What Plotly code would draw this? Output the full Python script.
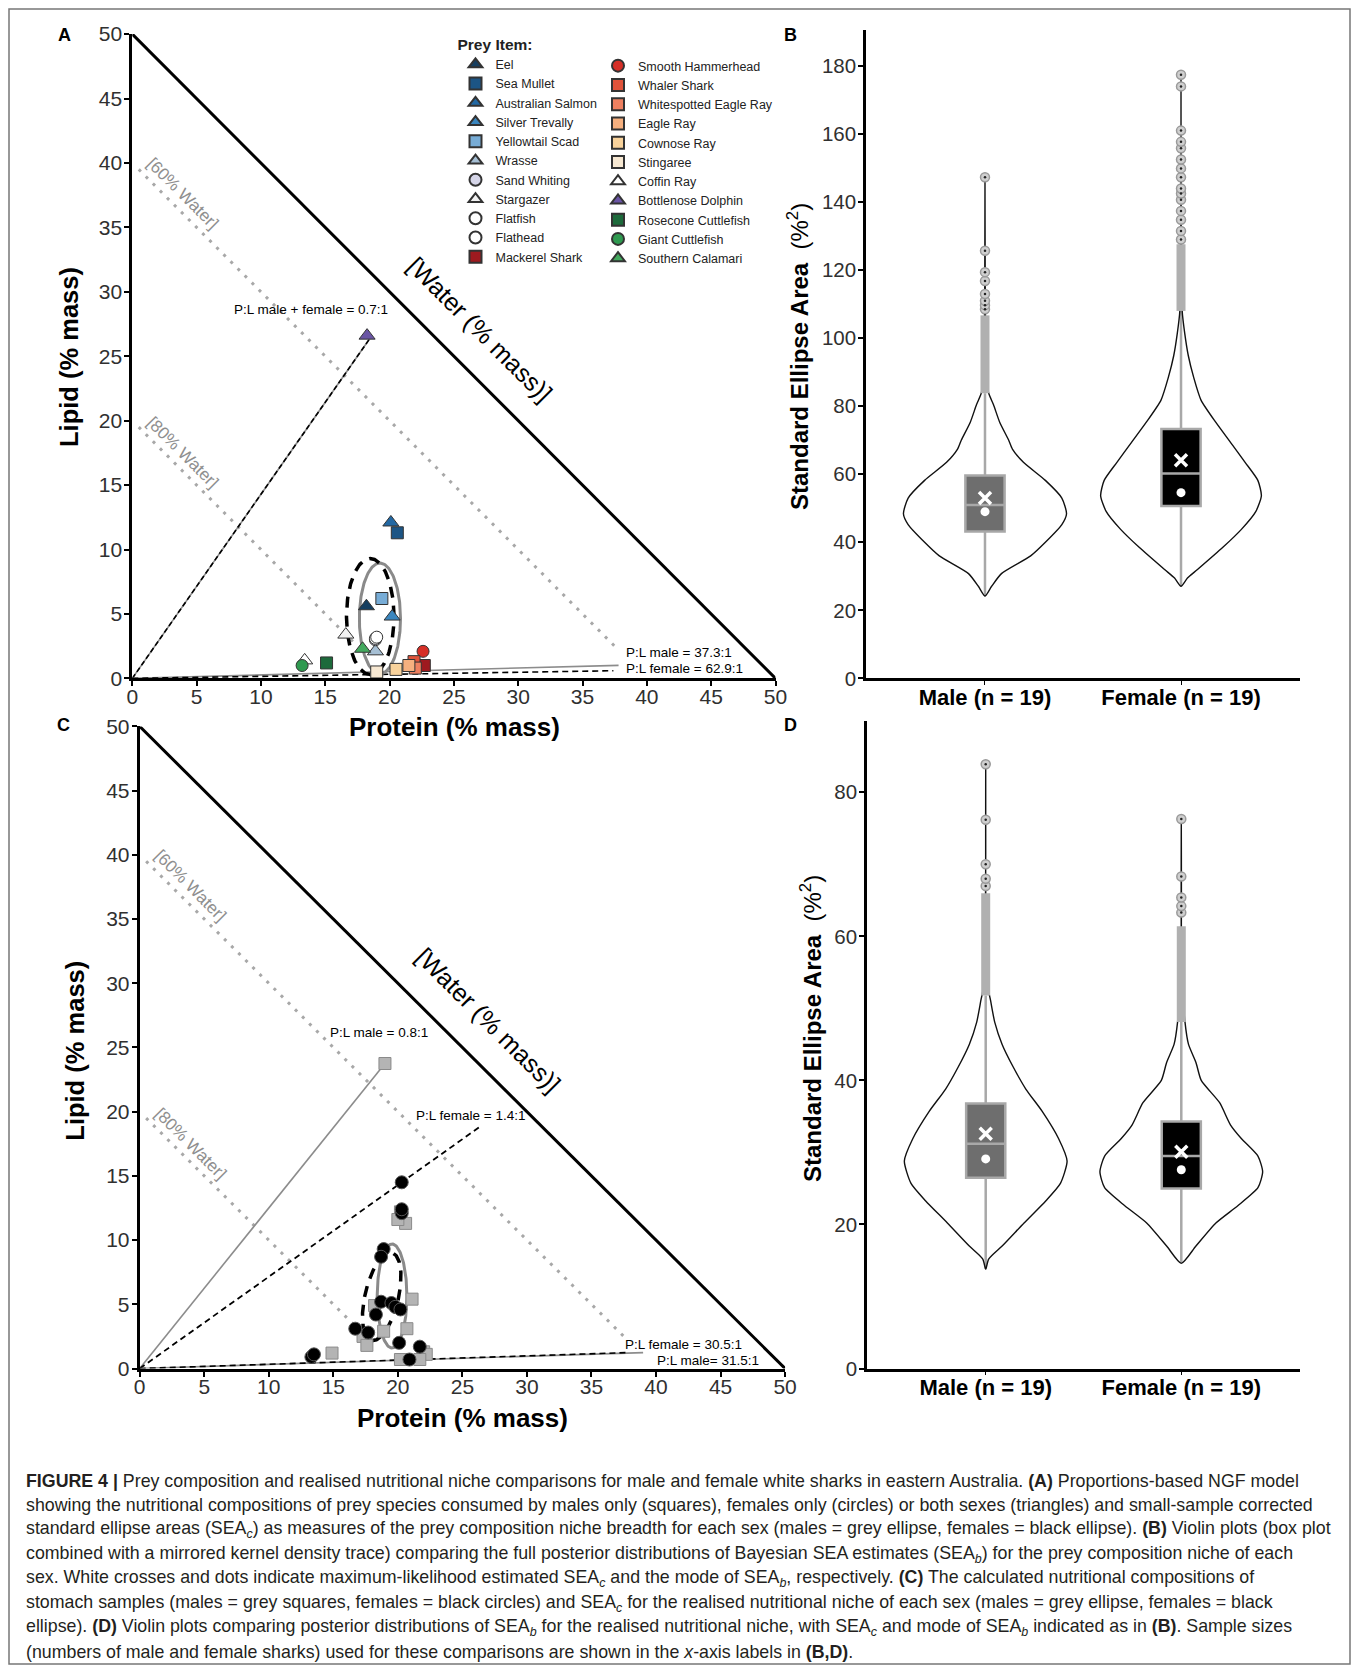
import numpy as np
import plotly.graph_objects as go

W, H = 1359, 1673          # page (screenshot) size
OFF = 8                    # default body margin of the html page
FW, FH = W - 2 * OFF, H - 2 * OFF
FONT = "Liberation Sans, Arial, Helvetica, sans-serif"

# ---------------- Panel A : prey items ----------------
prey_names_col1 = ["Eel", "Sea Mullet", "Australian Salmon", "Silver Trevally", "Yellowtail Scad",
                   "Wrasse", "Sand Whiting", "Stargazer", "Flatfish", "Flathead", "Mackerel Shark"]
prey_names_col2 = ["Smooth Hammerhead", "Whaler Shark", "Whitespotted Eagle Ray", "Eagle Ray",
                   "Cownose Ray", "Stingaree", "Coffin Ray", "Bottlenose Dolphin",
                   "Rosecone Cuttlefish", "Giant Cuttlefish", "Southern Calamari"]
prey_symbols_col1 = ["triangle-up", "square", "triangle-up", "triangle-up", "square", "triangle-up",
                     "circle", "triangle-up", "circle", "circle", "square"]
prey_symbols_col2 = ["circle", "square", "square", "square", "square", "square", "triangle-up",
                     "triangle-up", "square", "circle", "triangle-up"]
prey_colors_col1 = ["#163e5f", "#1c5585", "#2268a3", "#3a86bf", "#77acd6", "#a6bfd4",
                    "#d5d5e8", "#f2f2f2", "#ffffff", "#ffffff", "#9e1a1f"]
prey_colors_col2 = ["#d62f27", "#e0533a", "#ee8060", "#f6b07f", "#f9d39c", "#f7e8d2",
                    "#ffffff", "#6a55a5", "#1d6a3b", "#2f9a50", "#43a95e"]
prey_protein_col1 = [18.2, 20.6, 20.1, 20.2, 19.4, 18.9, 18.9, 16.6, 18.9, 19.0, 22.7]
prey_lipid_col1 = [5.6, 11.3, 12.1, 4.8, 6.2, 2.1, 3.0, 3.4, 3.1, 3.2, 1.0]
prey_protein_col2 = [22.6, 21.9, 22.0, 21.5, 20.5, 19.0, 13.4, 18.25, 15.1, 13.2, 17.9]
prey_lipid_col2 = [2.1, 1.3, 0.8, 1.0, 0.7, 0.5, 1.4, 26.6, 1.2, 1.0, 2.3]

# ellipses (centre protein, centre lipid, semi-axis x, semi-axis y, tilt deg)
sea_A_male = [19.25, 4.65, 1.6, 4.3, 0]
sea_A_female = [18.5, 4.8, 1.85, 4.5, 0]
sea_C_male = [19.55, 5.65, 1.15, 4.05, 0]
sea_C_female = [18.75, 5.6, 1.3, 3.5, -13]

# protein:lipid lines (ratio, end protein)
pl_A_both = [0.7, 18.6]
pl_A_male = [37.3, 37.8]
pl_A_female = [62.9, 37.4]
pl_C_male_hi = [0.8, 19.0]
pl_C_female_hi = [1.4, 26.5]
pl_C_female_lo = [30.5, 37.7]
pl_C_male_lo = [31.5, 39.0]

# ---------------- Panel C : stomach samples ----------------
male_protein = [19.0, 20.2, 20.6, 20.0, 21.1, 18.2, 18.9, 20.7, 17.3, 17.6, 14.9, 22.0, 22.2, 20.2, 21.7]
male_lipid = [23.75, 12.2, 11.3, 11.6, 5.4, 4.9, 2.9, 3.1, 2.5, 1.8, 1.2, 1.3, 1.1, 0.7, 0.7]
female_protein = [20.3, 20.3, 20.3, 18.9, 18.7, 18.7, 19.5, 19.8, 20.2, 18.3, 16.7, 17.7, 20.1, 21.7, 13.3, 13.5, 20.9]
female_lipid = [14.5, 12.1, 12.4, 9.3, 8.7, 5.2, 5.1, 4.8, 4.6, 4.2, 3.1, 2.8, 2.0, 1.7, 0.9, 1.1, 0.7]

# ---------------- Panels B / D : violins ----------------
sex_labels = ["Male (n = 19)", "Female (n = 19)"]
sex_pos = [1, 2]

B_male_levels = [24.2, 27, 30.8, 36, 40, 45.2, 48.4, 53, 58.2, 63.5, 67.4, 70, 75.3, 80.5, 83.8, 88, 101, 120, 147.3]
B_male_hw = [0, 0.033, 0.084, 0.233, 0.308, 0.392, 0.416, 0.392, 0.308, 0.196, 0.14, 0.121, 0.075, 0.043, 0.019, 0.009, 0.003, 0.001, 0]
B_female_levels = [27.1, 29.5, 32, 38.6, 43.8, 49.1, 53.7, 58.2, 63.5, 68.7, 75.3, 81.8, 88.4, 94.9, 101.4, 108, 130, 177.4]
B_female_hw = [0, 0.033, 0.084, 0.215, 0.308, 0.382, 0.41, 0.392, 0.327, 0.261, 0.177, 0.102, 0.065, 0.037, 0.019, 0.006, 0.001, 0]
D_male_levels = [13.8, 15.2, 17, 20.2, 23.3, 25.7, 28.8, 31.9, 35.7, 38.8, 41.9, 45, 48.1, 51.2, 52.4, 60, 83.9]
D_male_hw = [0, 0.015, 0.084, 0.196, 0.308, 0.382, 0.416, 0.373, 0.289, 0.205, 0.14, 0.084, 0.046, 0.024, 0.015, 0.002, 0]
D_female_levels = [14.6, 17, 20.2, 22.6, 25.1, 27.3, 29.5, 31.9, 33.8, 36.9, 40, 42.5, 45, 48.1, 55, 76.3]
D_female_hw = [0, 0.075, 0.177, 0.289, 0.392, 0.416, 0.392, 0.308, 0.252, 0.196, 0.102, 0.075, 0.037, 0.019, 0.002, 0]

# box stats: lowerfence, q1, median, q3, upperfence
B_box = [[24.2, 43.2, 51.0, 59.6, 83.8], [27.1, 50.7, 60.2, 73.3, 108.0]]
D_box = [[13.8, 26.5, 31.2, 36.8, 51.8], [14.6, 25.0, 29.5, 34.3, 48.1]]
B_sea_c = [53.0, 64.1]
B_mode = [49.0, 54.6]
D_sea_c = [32.6, 30.1]
D_mode = [29.1, 27.6]
B_dense_top = [106.7, 127.6]
D_dense_top = [66.0, 61.4]
B_outliers = [[108.5, 109.7, 111, 113, 116.8, 119.4, 125.7, 147.3],
              [129, 131.5, 134.8, 137.4, 140.7, 142.5, 144, 147.3, 149.9, 152.5, 155.8, 157.7, 161, 174, 177.4]]
D_outliers = [[67, 68, 70, 76.2, 83.9], [63.3, 64.2, 65.4, 68.3, 76.3]]
box_fill = ["#6e6e6e", "#000000"]

water_line = [[0, 50], [50, 0]]
water60 = [[0.5, 37.5], [39.5, 2.5]]
water80 = [[0.5, 17.5], [19.5, 2.5]]


def px(p):
    return (p - OFF) / FW


def py(p):
    return 1 - (p - OFF) / FH


fig = go.Figure()


def add_line(xs, ys, ax, color, width, dash="solid"):
    fig.add_trace(go.Scatter(x=xs, y=ys, mode="lines", line=dict(color=color, width=width, dash=dash),
                             xaxis=ax[0], yaxis=ax[1], showlegend=False, hoverinfo="skip"))


def ellipse(par, ax, color, width, dash):
    cx, cy, rx, ry, ang = par
    t = np.linspace(0, 2 * np.pi, 200)
    a = np.deg2rad(ang)
    ex = rx * np.cos(t)
    ey = ry * np.sin(t)
    xs = cx + ex * np.cos(a) - ey * np.sin(a)
    ys = cy + ex * np.sin(a) + ey * np.cos(a)
    add_line(xs, ys, ax, color, width, dash)


def pl_line(par, ax, color, width, dash):
    ratio, xend = par
    add_line([0, xend], [0, xend / ratio], ax, color, width, dash)


for ax in [("x", "y"), ("x3", "y3")]:
    add_line(water60[0], water60[1], ax, "#a8a8a8", 3, "3px,7px")
    add_line(water80[0], water80[1], ax, "#a8a8a8", 3, "3px,7px")
    add_line(water_line[0], water_line[1], ax, "black", 3)

# Panel A lines
pl_line(pl_A_both, ("x", "y"), "#8c8c8c", 1.6, "solid")
pl_line(pl_A_both, ("x", "y"), "black", 1.6, "5px,3px")
pl_line(pl_A_male, ("x", "y"), "#8c8c8c", 1.6, "solid")
pl_line(pl_A_female, ("x", "y"), "black", 1.6, "6px,4px")
ellipse(sea_A_male, ("x", "y"), "#8a8a8a", 3, "solid")
ellipse(sea_A_female, ("x", "y"), "black", 3.5, "11px,8px")

# Panel A prey points
for names, syms, cols, xs, ys, leg in [
        (prey_names_col1, prey_symbols_col1, prey_colors_col1, prey_protein_col1, prey_lipid_col1, "legend"),
        (prey_names_col2, prey_symbols_col2, prey_colors_col2, prey_protein_col2, prey_lipid_col2, "legend2")]:
    for n, s, c, xv, yv in zip(names, syms, cols, xs, ys):
        fig.add_trace(go.Scatter(
            x=[xv], y=[yv], mode="markers", name=n, legend=leg, cliponaxis=False,
            marker=dict(symbol=s, color=c, size=14 if "triangle" in s else 12,
                        line=dict(color="#333333", width=1)),
            xaxis="x", yaxis="y"))

# Panel C lines
pl_line(pl_C_male_hi, ("x3", "y3"), "#8c8c8c", 1.6, "solid")
pl_line(pl_C_female_hi, ("x3", "y3"), "black", 1.8, "6px,4px")
pl_line(pl_C_male_lo, ("x3", "y3"), "#8c8c8c", 1.6, "solid")
pl_line(pl_C_female_lo, ("x3", "y3"), "black", 1.6, "6px,4px")
ellipse(sea_C_male, ("x3", "y3"), "#8a8a8a", 3, "solid")
ellipse(sea_C_female, ("x3", "y3"), "black", 3.5, "11px,8px")

fig.add_trace(go.Scatter(x=male_protein, y=male_lipid, mode="markers", cliponaxis=False,
                         marker=dict(symbol="square", size=12, color="#b4b4b4", line=dict(color="#8a8a8a", width=1)),
                         xaxis="x3", yaxis="y3", showlegend=False, name="Male"))
fig.add_trace(go.Scatter(x=female_protein, y=female_lipid, mode="markers", cliponaxis=False,
                         marker=dict(symbol="circle", size=13, color="#000000", line=dict(color="#555555", width=1)),
                         xaxis="x3", yaxis="y3", showlegend=False, name="Female"))


# Violins
def add_violin(ax, pos, levels, hw, box, sea_c, mode, dense_top, outl, fill):
    xs = [pos + w for w in hw] + [pos - w for w in hw[::-1]]
    ys = list(levels) + list(levels[::-1])
    fig.add_trace(go.Scatter(x=xs, y=ys, mode="lines", line=dict(color="#111111", width=1.4, shape="spline", smoothing=0.6),
                             xaxis=ax[0], yaxis=ax[1], showlegend=False, hoverinfo="skip"))
    fig.add_trace(go.Scatter(x=[pos, pos], y=[box[4], dense_top], mode="lines",
                             line=dict(color="#b0b0b0", width=9), xaxis=ax[0], yaxis=ax[1],
                             showlegend=False, hoverinfo="skip"))
    fig.add_trace(go.Box(x=[pos], lowerfence=[box[0]], q1=[box[1]], median=[box[2]], q3=[box[3]],
                         upperfence=[box[4]], width=0.2, whiskerwidth=0, fillcolor=fill,
                         line=dict(color="#a8a8a8", width=2.5), boxpoints=False,
                         xaxis=ax[0], yaxis=ax[1], showlegend=False, hoverinfo="skip"))
    fig.add_trace(go.Scatter(x=[pos] * len(outl), y=outl, mode="markers",
                             marker=dict(symbol="circle", size=9, color="#cfcfcf", line=dict(color="#9a9a9a", width=1.5)),
                             xaxis=ax[0], yaxis=ax[1], showlegend=False, hoverinfo="skip"))
    fig.add_trace(go.Scatter(x=[pos] * len(outl), y=outl, mode="markers",
                             marker=dict(symbol="circle", size=2.5, color="#222222"),
                             xaxis=ax[0], yaxis=ax[1], showlegend=False, hoverinfo="skip"))
    fig.add_trace(go.Scatter(x=[pos], y=[sea_c], mode="markers",
                             marker=dict(symbol="x-thin", size=12, color="white", line=dict(color="white", width=3.5)),
                             xaxis=ax[0], yaxis=ax[1], showlegend=False, hoverinfo="skip"))
    fig.add_trace(go.Scatter(x=[pos], y=[mode], mode="markers",
                             marker=dict(symbol="circle", size=9, color="white", line=dict(width=0)),
                             xaxis=ax[0], yaxis=ax[1], showlegend=False, hoverinfo="skip"))


add_violin(("x2", "y2"), sex_pos[0], B_male_levels, B_male_hw, B_box[0], B_sea_c[0], B_mode[0], B_dense_top[0], B_outliers[0], box_fill[0])
add_violin(("x2", "y2"), sex_pos[1], B_female_levels, B_female_hw, B_box[1], B_sea_c[1], B_mode[1], B_dense_top[1], B_outliers[1], box_fill[1])
add_violin(("x4", "y4"), sex_pos[0], D_male_levels, D_male_hw, D_box[0], D_sea_c[0], D_mode[0], D_dense_top[0], D_outliers[0], box_fill[0])
add_violin(("x4", "y4"), sex_pos[1], D_female_levels, D_female_hw, D_box[1], D_sea_c[1], D_mode[1], D_dense_top[1], D_outliers[1], box_fill[1])

# ---------------- Axes ----------------
tern_x = dict(range=[0, 50], tickvals=list(range(0, 51, 5)), showline=True, linecolor="black", linewidth=3,
              ticks="outside", ticklen=5, tickwidth=1.5, tickcolor="black", showgrid=False, zeroline=False,
              tickfont=dict(family=FONT, size=21, color="#303030"), fixedrange=True, automargin=False,
              ticklabelstandoff=-8)
tern_y = dict(tern_x, ticklabelstandoff=-2)
vio_y = dict(showline=True, linecolor="black", linewidth=2.5, ticks="outside", ticklen=5, tickwidth=1.5,
             tickcolor="black", showgrid=False, zeroline=False, tickfont=dict(family=FONT, size=20.5, color="#303030"),
             automargin=False, ticklabelstandoff=-2)
vio_x = dict(range=[0.393, 2.607], tickvals=sex_pos, ticktext=["<b>" + s + "</b>" for s in sex_labels],
             showline=True, linecolor="black", linewidth=2.5, ticks="outside", ticklen=4, tickwidth=1.2,
             tickcolor="black", showgrid=False, zeroline=False, tickfont=dict(family=FONT, size=22, color="black"),
             automargin=False, ticklabelstandoff=-7)

fig.update_layout(
    width=FW, height=FH, margin=dict(l=0, r=0, t=0, b=0, pad=0, autoexpand=False),
    paper_bgcolor="white", plot_bgcolor="white",
    font=dict(family=FONT, color="black"),
    xaxis=dict(domain=[px(132.3), px(775.5)], anchor="y", **tern_x),
    yaxis=dict(domain=[py(678.4), py(34.1)], anchor="x", **tern_y),
    xaxis3=dict(domain=[px(139.7), px(785.1)], anchor="y3", **tern_x),
    yaxis3=dict(domain=[py(1368.5), py(726.4)], anchor="x3", **tern_y),
    xaxis2=dict(domain=[px(866), px(1300)], anchor="y2", **vio_x),
    yaxis2=dict(domain=[py(678.4), py(29.9)], anchor="x2", range=[0, 190.6], tickvals=list(range(0, 181, 20)), **vio_y),
    xaxis4=dict(domain=[px(867), px(1300)], anchor="y4", **vio_x),
    yaxis4=dict(domain=[py(1368.5), py(721)], anchor="x4", range=[0, 89.9], tickvals=list(range(0, 81, 20)), **vio_y),
    legend=dict(x=px(455.5), y=py(29.5), xanchor="left", yanchor="top", bgcolor="rgba(0,0,0,0)",
                font=dict(family=FONT, size=12.5, color="#222222"), itemsizing="constant", tracegroupgap=0,
                title=dict(text="<b>Prey Item:</b>", font=dict(family=FONT, size=15.5, color="#222222"), side="top")),
    legend2=dict(x=px(598), y=py(51), xanchor="left", yanchor="top", bgcolor="rgba(0,0,0,0)",
                 font=dict(family=FONT, size=12.5, color="#222222"), itemsizing="constant", tracegroupgap=0),
)

ann = []


def pa(text, x, y, size, angle=0, bold=False, color="black", xanchor="center"):
    ann.append(dict(text=("<b>%s</b>" % text) if bold else text, x=px(x), y=py(y), xref="paper", yref="paper",
                    showarrow=False, textangle=angle, xanchor=xanchor, yanchor="middle",
                    font=dict(family=FONT, size=size, color=color)))


def da(text, x, y, ax, size, angle=0, color="black", xanchor="center"):
    ann.append(dict(text=text, x=x, y=y, xref=ax[0], yref=ax[1], showarrow=False, textangle=angle,
                    xanchor=xanchor, yanchor="middle", font=dict(family=FONT, size=size, color=color)))


# panel letters
pa("A", 64, 35, 18, bold=True)
pa("B", 790, 35, 18, bold=True)
pa("C", 63, 725, 18, bold=True)
pa("D", 790, 725, 18, bold=True)
# axis titles
pa("Lipid (% mass)", 69, 357, 25.5, angle=-90, bold=True)
pa("Protein (% mass)", 454, 727.5, 26, bold=True)
pa("Lipid (% mass)", 75, 1050.7, 25.5, angle=-90, bold=True)
pa("Protein (% mass)", 462, 1417.6, 26, bold=True)
pa("<b>Standard Ellipse Area</b>  (%<sup>2</sup>)", 798, 357, 24, angle=-90)
pa("<b>Standard Ellipse Area</b>  (%<sup>2</sup>)", 811, 1029, 24, angle=-90)

for ax in [("x", "y"), ("x3", "y3")]:
    da("[Water (% mass)]", 27.0, 27.1, ax, 25, angle=45)
    da("[60% Water]", 3.9, 37.6, ax, 17, angle=45, color="#8f8f8f")
    da("[80% Water]", 3.9, 17.5, ax, 17, angle=45, color="#8f8f8f")

da("P:L male + female = 0.7:1", 13.9, 28.6, ("x", "y"), 13.5)
da("P:L male = 37.3:1", 38.2, 2.0, ("x", "y"), 13.5, xanchor="left")
da("P:L female = 62.9:1", 38.2, 0.75, ("x", "y"), 13.5, xanchor="left")
da("P:L male = 0.8:1", 18.5, 26.2, ("x3", "y3"), 13.5)
da("P:L female = 1.4:1", 25.6, 19.7, ("x3", "y3"), 13.5)
da("P:L female = 30.5:1", 42.1, 1.9, ("x3", "y3"), 13.5)
da("P:L male= 31.5:1", 44.0, 0.66, ("x3", "y3"), 13.5)

caption = [
    "<b>FIGURE 4 |</b> Prey composition and realised nutritional niche comparisons for male and female white sharks in eastern Australia. <b>(A)</b> Proportions-based NGF model",
    "showing the nutritional compositions of prey species consumed by males only (squares), females only (circles) or both sexes (triangles) and small-sample corrected",
    "standard ellipse areas (SEA<sub><i>c</i></sub>) as measures of the prey composition niche breadth for each sex (males = grey ellipse, females = black ellipse). <b>(B)</b> Violin plots (box plot",
    "combined with a mirrored kernel density trace) comparing the full posterior distributions of Bayesian SEA estimates (SEA<sub><i>b</i></sub>) for the prey composition niche of each",
    "sex. White crosses and dots indicate maximum-likelihood estimated SEA<sub><i>c</i></sub> and the mode of SEA<sub><i>b</i></sub>, respectively. <b>(C)</b> The calculated nutritional compositions of",
    "stomach samples (males = grey squares, females = black circles) and SEA<sub><i>c</i></sub> for the realised nutritional niche of each sex (males = grey ellipse, females = black",
    "ellipse). <b>(D)</b> Violin plots comparing posterior distributions of SEA<sub><i>b</i></sub> for the realised nutritional niche, with SEA<sub><i>c</i></sub> and mode of SEA<sub><i>b</i></sub> indicated as in <b>(B)</b>. Sample sizes",
    "(numbers of male and female sharks) used for these comparisons are shown in the <i>x</i>-axis labels in <b>(B,D)</b>.",
]
for i, line in enumerate(caption):
    pa(line, 23.5, 1480.6 + 24.5 * i, 17.8, color="#231f20", xanchor="left")

fig.update_layout(annotations=ann)
fig.add_shape(type="rect", xref="paper", yref="paper", x0=px(9), x1=px(1350), y0=py(1664), y1=py(9),
              line=dict(color="#777777", width=1.5), fillcolor="rgba(0,0,0,0)")

fig.write_html("out.html")
